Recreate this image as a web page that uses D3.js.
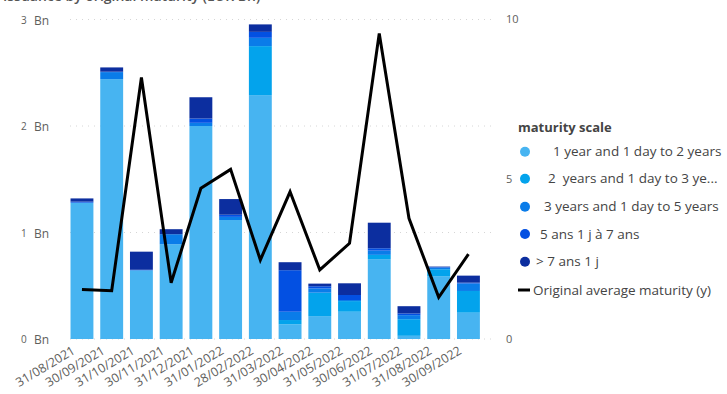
<!DOCTYPE html>
<html>
<head>
<meta charset="utf-8">
<script src="https://cdn.jsdelivr.net/npm/d3@7"></script>
<style>
  html, body { margin: 0; padding: 0; background: #fff; }
  svg { display: block; font-family: "Open Sans", "Noto Sans", sans-serif; }
</style>
</head>
<body>
<svg id="chart" width="727" height="394"></svg>
<script>
// Month-end issuance dates
const dates = ["31/08/2021", "30/09/2021", "31/10/2021", "30/11/2021", "31/12/2021", "31/01/2022",
  "28/02/2022", "31/03/2022", "30/04/2022", "31/05/2022", "30/06/2022", "31/07/2022",
  "31/08/2022", "30/09/2022"];

// Issuance per maturity bucket (EUR Bn)
const y1to2   = [1.28, 2.44, 0.645, 0.89, 2.00, 1.117, 2.29, 0.138, 0.215, 0.256, 0.75, 0.03, 0.59, 0.247];
const y2to3   = [0.00, 0.00, 0.00, 0.00, 0.00, 0.000, 0.46, 0.040, 0.220, 0.100, 0.04, 0.156, 0.065, 0.204];
const y3to5   = [0.00, 0.066, 0.00, 0.094, 0.03, 0.030, 0.078, 0.078, 0.040, 0.010, 0.04, 0.038, 0.015, 0.070];
const y5to7   = [0.01, 0.004, 0.005, 0.00, 0.04, 0.020, 0.056, 0.390, 0.020, 0.047, 0.022, 0.016, 0.005, 0.008];
const over7   = [0.03, 0.04, 0.17, 0.047, 0.20, 0.147, 0.070, 0.075, 0.025, 0.110, 0.24, 0.068, 0.005, 0.066];

// Original average maturity (years)
const avgMaturity = [1.55, 1.51, 8.17, 1.76, 4.71, 5.30, 2.47, 4.60, 2.16, 2.99, 9.55, 3.77, 1.30, 2.65];

const seriesNames = ["1 year and 1 day to 2 years", "2  years and 1 day to 3 ye...",
  "3 years and 1 day to 5 years", "5 ans 1 j à 7 ans", "> 7 ans 1 j"];
const seriesColors = ["#47B4F1", "#03A3EC", "#0A7CE9", "#0350E2", "#0C2E9F"];
const leftTicks = [0, 1, 2, 3];
const rightTicks = [0, 5, 10];

const svg = d3.select("#chart");

const x = d3.scaleBand().domain(dates).range([67.1, 483.3]).paddingInner(0.23).paddingOuter(0.115);
const yL = d3.scaleLinear().domain([0, 3]).range([339, 19.5]);
const yR = d3.scaleLinear().domain([0, 10]).range([339, 19]);

// Title (partly above the visible area)
svg.append("text").attr("x", 3).attr("y", 1)
  .attr("font-size", 14).attr("font-weight", 600).attr("fill", "#555")
  .text("Issuance by original maturity (EUR Bn)");

// Dotted gridlines
svg.append("g").selectAll("line").data(leftTicks).join("line")
  .attr("x1", 70).attr("x2", 492)
  .attr("y1", d => yL(d)).attr("y2", d => yL(d))
  .attr("stroke", "#d6d6d6").attr("stroke-width", 1).attr("stroke-dasharray", "1,5");

// Left axis labels
const lt = svg.append("g").selectAll("text").data(leftTicks).join("text")
  .attr("y", d => yL(d) + 5).attr("fill", "#605E5C");
lt.append("tspan").attr("x", 21).attr("font-size", 10).attr("dy", -1).text(d => d);
lt.append("tspan").attr("x", 34).attr("font-size", 12).attr("dy", 1).text("Bn");

// Right axis labels
svg.append("g").selectAll("text").data(rightTicks).join("text")
  .attr("x", 506).attr("y", d => yR(d) + 4)
  .attr("font-size", 11).attr("fill", "#605E5C").text(d => d);

// Stacked bars
const rows = dates.map((d, i) => ({ date: d, s0: y1to2[i], s1: y2to3[i], s2: y3to5[i], s3: y5to7[i], s4: over7[i] }));
const stack = d3.stack().keys(["s0", "s1", "s2", "s3", "s4"])(rows);
svg.append("g").selectAll("g").data(stack).join("g")
  .attr("fill", (d, i) => seriesColors[i])
  .selectAll("rect").data(d => d).join("rect")
  .attr("x", d => x(d.data.date))
  .attr("width", x.bandwidth())
  .attr("y", d => yL(d[1]))
  .attr("height", d => Math.max(0, yL(d[0]) - yL(d[1])));

// Average maturity line
const line = d3.line().x((d, i) => x(dates[i]) + x.bandwidth() / 2).y(d => yR(d));
svg.append("path").datum(avgMaturity)
  .attr("d", line).attr("fill", "none")
  .attr("stroke", "#000").attr("stroke-width", 3).attr("stroke-linejoin", "miter");

// X axis labels
svg.append("g").selectAll("text").data(dates).join("text")
  .attr("transform", d => `translate(${x(d) + x.bandwidth() / 2 - 6},${353}) rotate(-31)`)
  .attr("text-anchor", "end")
  .attr("font-size", 12.5).attr("fill", "#605E5C").text(d => d);

// Legend
const lg = svg.append("g");
lg.append("text").attr("x", 518).attr("y", 132)
  .attr("font-size", 13).attr("font-weight", 700).attr("fill", "#444").text("maturity scale");
const legendY = [151.7, 178.7, 206.7, 234, 261.7];
const legendX = [553, 548, 544, 540, 536];
seriesNames.forEach((name, i) => {
  lg.append("circle").attr("cx", 525).attr("cy", legendY[i]).attr("r", 5).attr("fill", seriesColors[i]);
  lg.append("text").attr("x", legendX[i]).attr("y", legendY[i] + 4.5)
    .attr("font-size", 13.5).attr("fill", "#444")
    .style("white-space", "pre").text(name);
});
lg.append("line").attr("x1", 518).attr("x2", 530).attr("y1", 290).attr("y2", 290)
  .attr("stroke", "#000").attr("stroke-width", 3);
lg.append("text").attr("x", 533).attr("y", 295)
  .attr("font-size", 13.5).attr("fill", "#444").text("Original average maturity (y)");
</script>
</body>
</html>
